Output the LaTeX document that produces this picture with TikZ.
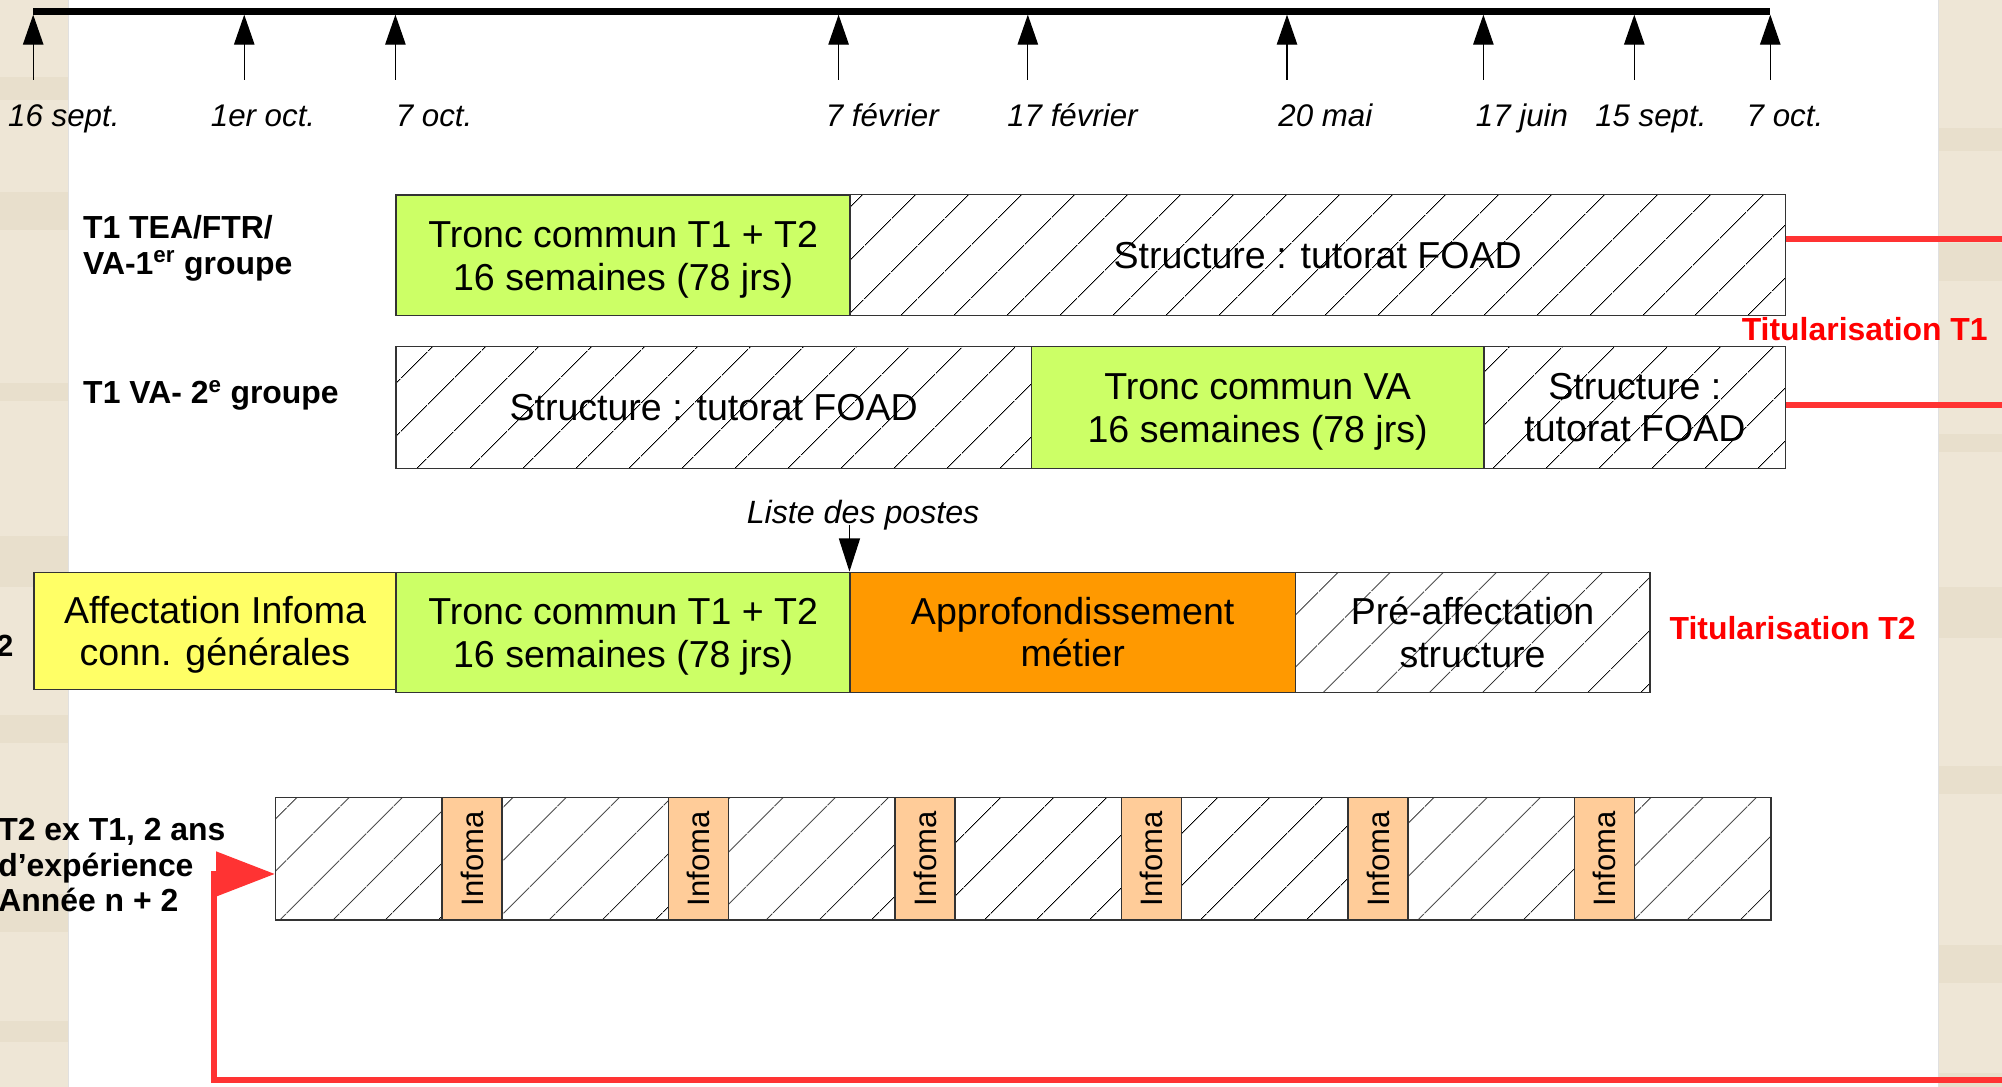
\documentclass[tikz,border=0pt]{standalone}
\usepackage{fontspec}
\setmainfont{Liberation Sans}
\usetikzlibrary{arrows.meta,patterns.meta}
\definecolor{tgreen}{HTML}{CCFF66}
\definecolor{tyellow}{HTML}{FFFF66}
\definecolor{torange}{HTML}{FF9900}
\definecolor{tpeach}{HTML}{FFCC99}
\definecolor{tred}{HTML}{FF3333}
\definecolor{ttitle}{HTML}{FF0000}
\definecolor{paper}{HTML}{EEE6D6}
\definecolor{paperdark}{HTML}{E4D9C3}
\newcommand{\topstrut}{\rule{0pt}{27.5pt}}
\begin{document}
\begin{tikzpicture}[x=1pt,y=-1pt,
  seg/.style={draw=black!80, line width=1.1pt, rectangle, inner sep=0pt, anchor=north west,
    align=center, font=\fontsize{29.4}{33}\selectfont},
  hatch/.style={seg, pattern={Lines[angle=45,distance=30pt,line width=0.7pt]}},
  greenbox/.style={seg, fill=tgreen},
  yellowbox/.style={seg, fill=tyellow},
  orangebox/.style={seg, fill=torange},
  infobox/.style={seg, fill=tpeach, minimum width=47, minimum height=96},
  infotext/.style={rotate=90, inner sep=0pt, font=\fontsize{24.3}{28}\selectfont},
  datelbl/.style={anchor=base, inner sep=0pt, font=\fontsize{24.5}{28}\selectfont\itshape},
  rowlbl/.style={inner sep=0pt, align=left, font=\fontsize{25}{28}\selectfont\bfseries},
  titul/.style={inner sep=0pt, text=ttitle, font=\fontsize{25}{28}\selectfont\bfseries},
  ticktip/.style={line width=1pt, -{Triangle[length=23.5pt,width=16pt]}},
  redline/.style={draw=tred, line width=5pt},
]
% background and bounding box
\fill[white] (0,0) rectangle (1568,851);
\useasboundingbox (0,0) rectangle (1568,851);
\fill[paper] (0,0) rectangle (53.5,851);
\fill[paper] (1518.5,0) rectangle (1568,851);
\foreach \yy/\hh in {60/18,150/30,300/14,420/40,560/22,700/30,800/16}{
  \fill[paperdark, opacity=0.5] (0,\yy) rectangle (53.5,\yy+\hh);
  \fill[paperdark, opacity=0.5] (1518.5,\yy+40) rectangle (1568,\yy+40+\hh);
}
\draw[black!12, line width=0.8pt] (53.5,0) -- (53.5,851);
\draw[black!12, line width=0.8pt] (1518.5,0) -- (1518.5,851);

% timeline
\coordinate (tl0) at (26,9);
\coordinate (tl1) at (1386.5,9);
\draw[line width=5pt] (tl0) -- (tl1);
\foreach \x/\lab/\lx [count=\i] in {26/16 sept./50, 191.3/1er oct./206, 309.7/7 oct./340,
    656.8/7 février/691, 805/17 février/840, 1008/20 mai/1038, 1161.8/17 juin/1192,
    1280/15 sept./1293, 1386.5/7 oct./1398}{
  \coordinate (tb\i) at (\x,62.6);
  \coordinate (ta\i) at (\x,11.5);
  \draw[ticktip] (tb\i) -- (ta\i);
  \node[datelbl] (d\i) at (\lx,98.7) {\lab};
}

% row labels
\node[rowlbl, anchor=west] (lab1) at (64.9,194.5) {T1 TEA/FTR/\\VA-1\textsuperscript{er} groupe};
\node[rowlbl, anchor=base west] (lab2) at (65,316.4) {T1 VA- 2\textsuperscript{e} groupe};
\node[inner sep=0pt, anchor=base west, font=\fontsize{24}{28}\selectfont\bfseries] (lab3) at (-3,514) {2};
\node[rowlbl, anchor=west] (lab4) at (-1.5,677.5) {T2 ex T1, 2 ans\\d’expérience\\Année n + 2};

% row 1
\node[greenbox, minimum width=355.6, minimum height=94.5] (r1a) at (309.7,152.2) {\topstrut Tronc commun T1 + T2\\16 semaines (78 jrs)};
\node[hatch, minimum width=732.7, minimum height=94.5] (r1b) at (665.3,152.2) {Structure : tutorat FOAD};

% row 2
\node[hatch, minimum width=497.4, minimum height=95.5] (r2a) at (309.7,270.7) {Structure : tutorat FOAD};
\node[greenbox, minimum width=354.7, minimum height=95.5] (r2b) at (807.1,270.7) {\topstrut Tronc commun VA\\16 semaines (78 jrs)};
\node[hatch, minimum width=236.2, minimum height=95.5] (r2c) at (1161.8,270.7) {Structure :\\tutorat FOAD};

% row 3
\node[yellowbox, minimum width=283.7, minimum height=92] (r3a) at (26,447.7) {\topstrut Affectation Infoma\\conn. générales};
\node[greenbox, minimum width=355.6, minimum height=94] (r3b) at (309.7,447.7) {\topstrut Tronc commun T1 + T2\\16 semaines (78 jrs)};
\node[orangebox, minimum width=348.6, minimum height=94] (r3c) at (665.3,447.7) {Approfondissement\\métier};
\node[hatch, minimum width=277.7, minimum height=94] (r3d) at (1013.9,447.7) {Pré-affectation\\structure};

% Liste des postes
\node[inner sep=0pt, anchor=base, font=\fontsize{25.2}{28}\selectfont\itshape] (liste) at (676,409.7) {Liste des postes};
\coordinate (lst0) at (665.3,411);
\coordinate (lst1) at (665.3,447.7);
\draw[line width=1pt, -{Triangle[length=26pt,width=16.5pt]}] (lst0) -- (lst1);

% row 4
\node[hatch, minimum width=130.3, minimum height=96] (h0) at (215.3,624) {};
\foreach \i in {0,...,5}{
  \pgfmathsetmacro\L{345.6+177.4*\i}
  \pgfmathsetmacro\H{392.6+177.4*\i}
  \node[infobox] (inf\i) at (\L,624) {};
  \node[infotext] (infT\i) at (inf\i.center) {Infoma};
  \ifnum\i<5
    \node[hatch, minimum width=130.4, minimum height=96] (h\i x) at (\H,624) {};
  \fi
}
\node[hatch, minimum width=106.9, minimum height=96] (h6) at (1279.6,624) {};

% titularisation labels
\node[titul, anchor=base east] (tit1) at (1557,266.8) {Titularisation T1};
\node[titul, anchor=base west] (tit2) at (1307.5,500.7) {Titularisation T2};

% red connectors
\coordinate (o1) at (1568,187);
\coordinate (o2) at (1568,317);
\draw[redline] (r1b.east |- o1) -- (o1);
\draw[redline] (r2c.east |- o2) -- (o2);
\coordinate (o3) at (1568,846);
\coordinate (elb) at (167.5,846);
\coordinate (tip) at (215.3,684.5);
\draw[redline, -{Triangle[length=46pt,width=34pt]}] (o3) -- (elb) -- (elb |- tip) -- (tip);
\end{tikzpicture}
\end{document}
